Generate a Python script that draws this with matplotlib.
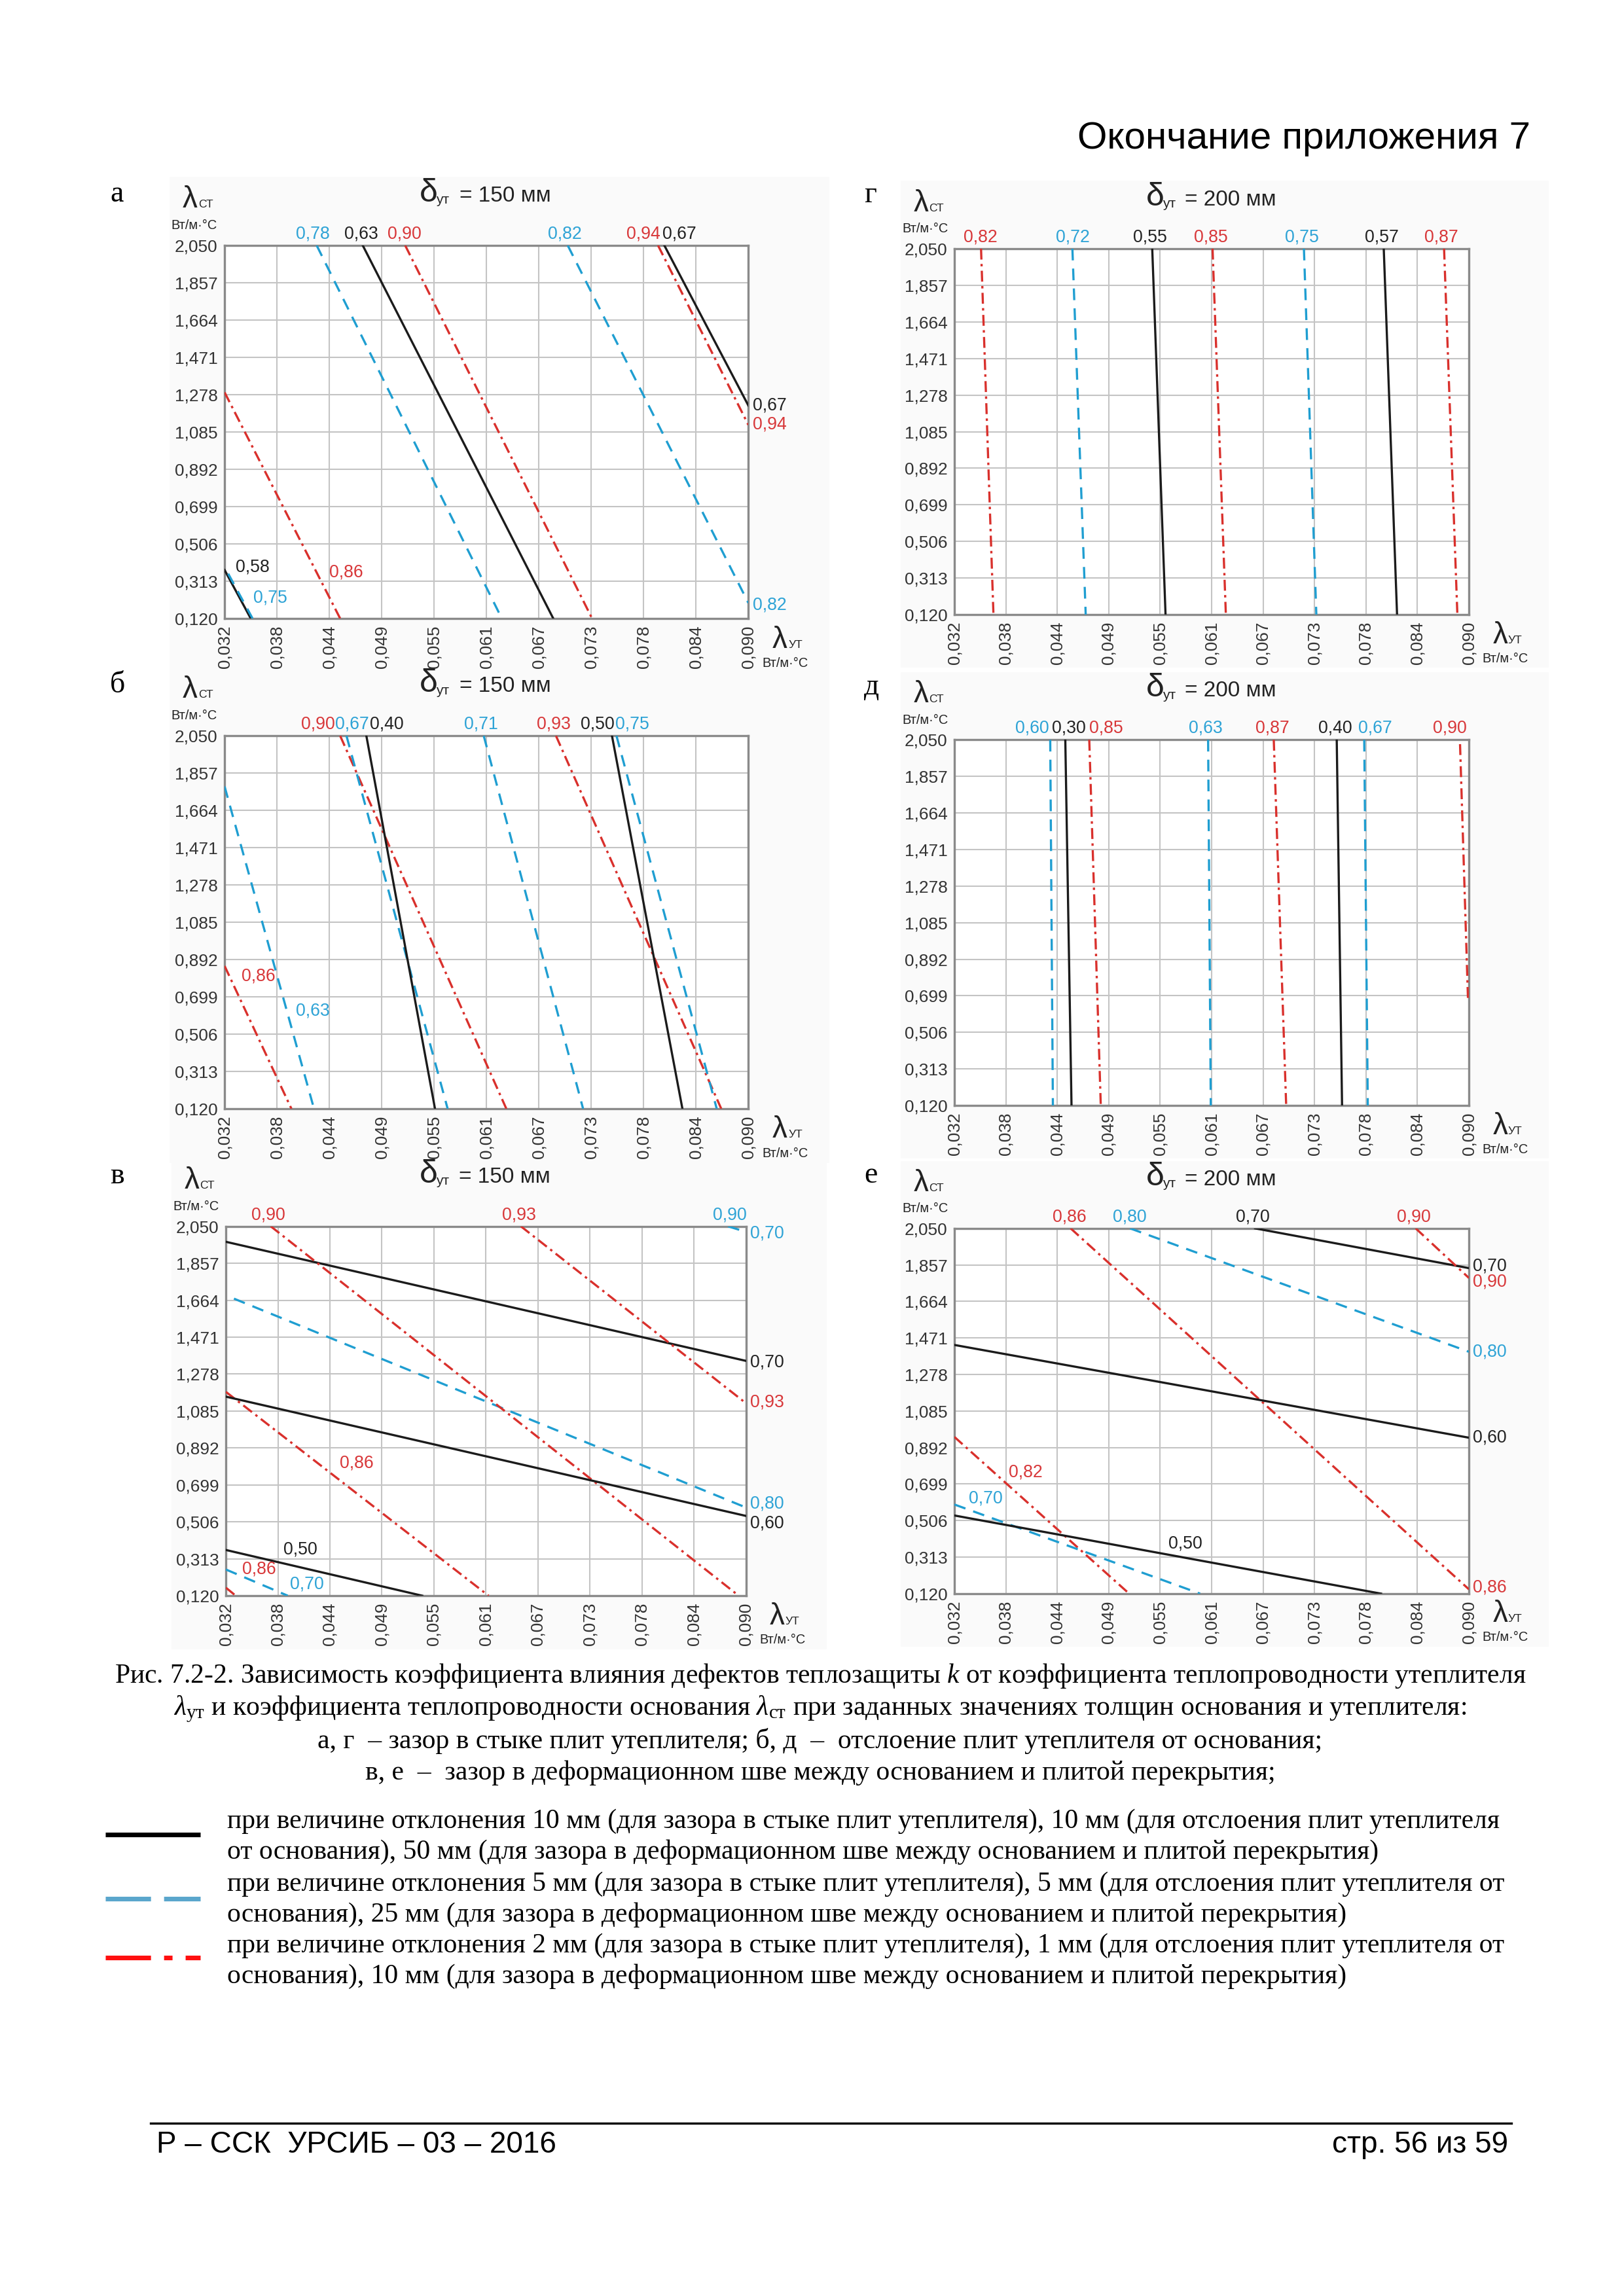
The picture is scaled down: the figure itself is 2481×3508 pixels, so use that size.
import matplotlib
matplotlib.use('Agg')
import matplotlib.pyplot as plt
from matplotlib.lines import Line2D
from matplotlib.patches import Rectangle
import numpy as np

plt.rcParams['font.family'] = ['Liberation Sans', 'DejaVu Sans']
plt.rcParams['lines.scale_dashes'] = False
plt.rcParams['mathtext.fontset'] = 'custom'
plt.rcParams['mathtext.rm'] = 'Liberation Serif'
plt.rcParams['mathtext.it'] = 'Liberation Serif:italic'

# axis values (λут along x, λст along y)
X_TICKS = ['0,032', '0,038', '0,044', '0,049', '0,055', '0,061',
           '0,067', '0,073', '0,078', '0,084', '0,090']
Y_TICKS = ['0,120', '0,313', '0,506', '0,699', '0,892', '1,085',
           '1,278', '1,471', '1,664', '1,857', '2,050']
X_MIN, X_MAX = 0.032, 0.090
Y_MIN, Y_MAX = 0.120, 2.050

# k = black (10 mm), b = blue (5 mm), r = red (2 mm)
# panel а, δут = 150 мм
A_KIND = ['b', 'k', 'r', 'b', 'r', 'k', 'r', 'k', 'b']
A_X = [(0.0422, 0.0627), (0.0473, 0.0684), (0.0520, 0.0727), (0.0700, 0.0900),
       (0.0800, 0.0900), (0.0807, 0.0900), (0.0320, 0.0448), (0.0320, 0.0349),
       (0.0324, 0.0351)]
A_Y = [(2.050, 0.120), (2.050, 0.120), (2.050, 0.120), (2.050, 0.201),
       (2.050, 1.122), (2.050, 1.222), (1.290, 0.120), (0.371, 0.120),
       (0.352, 0.120)]

# panel г, δут = 200 мм
G_KIND = ['r', 'b', 'k', 'r', 'b', 'k', 'r']
G_X = [(0.0350, 0.0364), (0.0453, 0.0468), (0.0543, 0.0558), (0.0611, 0.0626),
       (0.0714, 0.0728), (0.0804, 0.0819), (0.0872, 0.0887)]
G_Y = [(2.050, 0.120)] * 7

# panel б, δут = 150 мм
B_KIND = ['b', 'r', 'r', 'b', 'k', 'b', 'r', 'k', 'b']
B_X = [(0.0320, 0.0419), (0.0320, 0.0394), (0.0448, 0.0632), (0.0455, 0.0567),
       (0.0477, 0.0553), (0.0607, 0.0717), (0.0687, 0.0870), (0.0749, 0.0827),
       (0.0754, 0.0865)]
B_Y = [(1.788, 0.120), (0.859, 0.120), (2.050, 0.120), (2.050, 0.120),
       (2.050, 0.120), (2.050, 0.120), (2.050, 0.120), (2.050, 0.120),
       (2.050, 0.120)]

# panel д, δут = 200 мм
D_KIND = ['b', 'k', 'r', 'b', 'r', 'k', 'b', 'r']
D_X = [(0.0428, 0.0431), (0.0445, 0.0452), (0.0472, 0.0485), (0.0606, 0.0609),
       (0.0680, 0.0694), (0.0751, 0.0757), (0.0782, 0.0786), (0.0890, 0.0899)]
D_Y = [(2.050, 0.120)] * 7 + [(2.027, 0.676)]

# panel в, δут = 150 мм
V_KIND = ['k', 'b', 'r', 'r', 'r', 'k', 'k', 'b', 'r', 'b']
V_X = [(0.0320, 0.0900), (0.0329, 0.0900), (0.0370, 0.0892), (0.0649, 0.0900),
       (0.0320, 0.0613), (0.0320, 0.0900), (0.0320, 0.0539), (0.0320, 0.0389),
       (0.0320, 0.0331), (0.0880, 0.0900)]
V_Y = [(1.969, 1.347), (1.672, 0.581), (2.050, 0.120), (2.050, 1.126),
       (1.185, 0.120), (1.160, 0.537), (0.359, 0.120), (0.257, 0.120),
       (0.162, 0.120), (2.050, 2.021)]

# panel е, δут = 200 мм
E_KIND = ['k', 'r', 'r', 'b', 'k', 'r', 'b', 'k']
E_X = [(0.0659, 0.0900), (0.0840, 0.0900), (0.0451, 0.0900), (0.0518, 0.0900),
       (0.0320, 0.0900), (0.0320, 0.0517), (0.0320, 0.0597), (0.0320, 0.0801)]
E_Y = [(2.050, 1.840), (2.050, 1.788), (2.050, 0.143), (2.050, 1.398),
       (1.434, 0.944), (0.948, 0.120), (0.591, 0.120), (0.533, 0.120)]

# curve labels: text, colour, place, x / y in axes fraction
A_LAB = [('0,78', 'b', 'top', 0.168), ('0,63', 'k', 'top', 0.261),
         ('0,90', 'r', 'top', 0.344), ('0,82', 'b', 'top', 0.650),
         ('0,94', 'r', 'top', 0.799), ('0,67', 'k', 'top', 0.868),
         ('0,67', 'k', 'right', 0.571), ('0,94', 'r', 'right', 0.521),
         ('0,82', 'b', 'right', 0.036),
         ('0,58', 'k', 'in', (0.053, 0.138)), ('0,86', 'r', 'in', (0.232, 0.123)),
         ('0,75', 'b', 'in', (0.087, 0.055))]
G_LAB = [('0,82', 'r', 'top', 0.050), ('0,72', 'b', 'top', 0.230),
         ('0,55', 'k', 'top', 0.380), ('0,85', 'r', 'top', 0.498),
         ('0,75', 'b', 'top', 0.676), ('0,57', 'k', 'top', 0.831),
         ('0,87', 'r', 'top', 0.946)]
B_LAB = [('0,90', 'r', 'top', 0.178), ('0,67', 'b', 'top', 0.244),
         ('0,40', 'k', 'top', 0.310), ('0,71', 'b', 'top', 0.490),
         ('0,93', 'r', 'top', 0.628), ('0,50', 'k', 'top', 0.712),
         ('0,75', 'b', 'top', 0.779),
         ('0,86', 'r', 'in', (0.065, 0.356)), ('0,63', 'b', 'in', (0.168, 0.263))]
D_LAB = [('0,60', 'b', 'top', 0.151), ('0,30', 'k', 'top', 0.223),
         ('0,85', 'r', 'top', 0.295), ('0,63', 'b', 'top', 0.488),
         ('0,87', 'r', 'top', 0.618), ('0,40', 'k', 'top', 0.740),
         ('0,67', 'b', 'top', 0.818), ('0,90', 'r', 'top', 0.963)]
V_LAB = [('0,90', 'r', 'top', 0.081), ('0,93', 'r', 'top', 0.564),
         ('0,90', 'b', 'top', 0.969),
         ('0,70', 'b', 'right', 0.981), ('0,70', 'k', 'right', 0.632),
         ('0,93', 'r', 'right', 0.523), ('0,80', 'b', 'right', 0.249),
         ('0,60', 'k', 'right', 0.196),
         ('0,86', 'r', 'in', (0.251, 0.358)), ('0,50', 'k', 'in', (0.143, 0.125)),
         ('0,86', 'r', 'in', (0.064, 0.071)), ('0,70', 'b', 'in', (0.156, 0.031))]
E_LAB = [('0,86', 'r', 'top', 0.223), ('0,80', 'b', 'top', 0.340),
         ('0,70', 'k', 'top', 0.580), ('0,90', 'r', 'top', 0.893),
         ('0,70', 'k', 'right', 0.897), ('0,90', 'r', 'right', 0.853),
         ('0,80', 'b', 'right', 0.662), ('0,60', 'k', 'right', 0.427),
         ('0,86', 'r', 'right', 0.016),
         ('0,82', 'r', 'in', (0.138, 0.333)), ('0,70', 'b', 'in', (0.061, 0.260)),
         ('0,50', 'k', 'in', (0.449, 0.137))]

CAPTION = [
    'Рис. 7.2-2. Зависимость коэффициента влияния дефектов теплозащиты $k$ от коэффициента теплопроводности утеплителя',
    r'$\lambda_{\mathrm{ут}}$ и коэффициента теплопроводности основания $\lambda_{\mathrm{ст}}$ при заданных значениях толщин основания и утеплителя:',
    'а, г  – зазор в стыке плит утеплителя; б, д  –  отслоение плит утеплителя от основания;',
    'в, е  –  зазор в деформационном шве между основанием и плитой перекрытия;',
]
LEGEND_TEXT = [
    ('при величине отклонения 10 мм (для зазора в стыке плит утеплителя), 10 мм (для отслоения плит утеплителя',
     'от основания), 50 мм (для зазора в деформационном шве между основанием и плитой перекрытия)'),
    ('при величине отклонения 5 мм (для зазора в стыке плит утеплителя), 5 мм (для отслоения плит утеплителя от',
     'основания), 25 мм (для зазора в деформационном шве между основанием и плитой перекрытия)'),
    ('при величине отклонения 2 мм (для зазора в стыке плит утеплителя), 1 мм (для отслоения плит утеплителя от',
     'основания), 10 мм (для зазора в деформационном шве между основанием и плитой перекрытия)'),
]

# styles
LINE_COLORS = {'k': '#1b1b1b', 'b': '#1f9ed1', 'r': '#d9302c'}
TEXT_COLORS = {'k': '#222222', 'b': '#2ea3d6', 'r': '#d8383a'}
LINE_STYLES = {'k': '-', 'b': (0, (4.3, 3.0)), 'r': (0, (4.0, 1.6, 0.9, 1.6))}
SERIF = 'Liberation Serif'
BODY_SIZE = 10.0

W, H = 2481, 3508
fig = plt.figure(figsize=(W / 300, H / 300), dpi=300)


def fx(px):
    return px / W


def fy(py):
    return 1 - py / H


def panel(rect, kinds, xs, ys, labels, delta, letter, letter_xy):
    ax = fig.add_axes(rect)
    bg = Rectangle((-0.105, -0.145), 1.26, 1.33, transform=ax.transAxes,
                   facecolor='#fafafa', edgecolor='none', zorder=-5)
    fig.add_artist(bg)
    for kd, (x0, x1), (y0, y1) in zip(kinds, xs, ys):
        ax.plot([x0, x1], [y0, y1], color=LINE_COLORS[kd], linestyle=LINE_STYLES[kd],
                lw=0.8, dash_capstyle='butt', zorder=3)
    ax.set_xlim(X_MIN, X_MAX)
    ax.set_ylim(Y_MIN, Y_MAX)
    ax.set_xticks(np.linspace(X_MIN, X_MAX, len(X_TICKS)))
    ax.set_xticklabels(X_TICKS, rotation=90, fontsize=6.3, color='#333333')
    ax.set_yticks(np.linspace(Y_MIN, Y_MAX, len(Y_TICKS)))
    ax.set_yticklabels(Y_TICKS, fontsize=6.3, color='#333333')
    ax.tick_params(length=0, pad=2.5)
    ax.set_axisbelow(True)
    ax.grid(color='#c4c4c4', lw=0.5)
    for sp in ax.spines.values():
        sp.set_color('#8a8a8a')
        sp.set_linewidth(0.8)

    for txt, kd, where, pos in labels:
        c = TEXT_COLORS[kd]
        if where == 'top':
            ax.text(pos, 1.008, txt, color=c, fontsize=6.4, ha='center', va='bottom',
                    transform=ax.transAxes, clip_on=False)
        elif where == 'right':
            ax.text(1.008, pos, txt, color=c, fontsize=6.4, ha='left', va='center',
                    transform=ax.transAxes, clip_on=False)
        else:
            ax.text(pos[0], pos[1], txt, color=c, fontsize=6.4, ha='center', va='center',
                    transform=ax.transAxes, zorder=4)

    # heading δут = ... мм
    ax.text(0.372, 1.118, 'δ', fontsize=12, ha='left', va='baseline',
            transform=ax.transAxes, color='#222222')
    ax.text(0.404, 1.112, 'ут', fontsize=5, ha='left', va='baseline',
            transform=ax.transAxes, color='#222222')
    ax.text(0.448, 1.118, f'= {delta} мм', fontsize=8, ha='left', va='baseline',
            transform=ax.transAxes, color='#222222')
    # axis names
    ax.text(-0.080, 1.102, 'λ', fontsize=11, ha='left', va='baseline',
            transform=ax.transAxes, color='#222222')
    ax.text(-0.050, 1.102, 'СТ', fontsize=4.2, ha='left', va='baseline',
            transform=ax.transAxes, color='#222222')
    ax.text(-0.102, 1.044, 'Вт/м·°С', fontsize=4.8, ha='left', va='baseline',
            transform=ax.transAxes, color='#222222')
    ax.text(1.046, -0.078, 'λ', fontsize=11, ha='left', va='baseline',
            transform=ax.transAxes, color='#222222')
    ax.text(1.076, -0.078, 'УТ', fontsize=4.2, ha='left', va='baseline',
            transform=ax.transAxes, color='#222222')
    ax.text(1.026, -0.130, 'Вт/м·°С', fontsize=4.8, ha='left', va='baseline',
            transform=ax.transAxes, color='#222222')

    fig.text(fx(letter_xy[0]), fy(letter_xy[1]), letter, fontsize=11,
             family=SERIF, ha='center', va='center')
    return ax


panel([0.1383, 0.7306, 0.3225, 0.1625], A_KIND, A_X, A_Y, A_LAB, 150, 'а', (179, 297))
panel([0.5877, 0.7323, 0.3168, 0.1594], G_KIND, G_X, G_Y, G_LAB, 200, 'г', (1330, 298))
panel([0.1383, 0.5171, 0.3225, 0.1624], B_KIND, B_X, B_Y, B_LAB, 150, 'б', (179, 1047))
panel([0.5877, 0.5185, 0.3168, 0.1593], D_KIND, D_X, D_Y, D_LAB, 200, 'д', (1332, 1050))
panel([0.1391, 0.3050, 0.3202, 0.1609], V_KIND, V_X, V_Y, V_LAB, 150, 'в', (179, 1797))
panel([0.5877, 0.3059, 0.3168, 0.1591], E_KIND, E_X, E_Y, E_LAB, 200, 'е', (1330, 1796))

# header
fig.text(fx(2338), fy(212), 'Окончание приложения 7', fontsize=14,
         ha='right', va='center')

# caption
for line, py in zip(CAPTION, [2561, 2611, 2660, 2709]):
    fig.text(fx(1253), fy(py), line, fontsize=BODY_SIZE, family=SERIF,
             ha='center', va='center')

# legend
legend_styles = [('-', '#000000'), ((0, (16.6, 4.8)), '#5aa6cc'),
                 ((0, (16.6, 4.8, 3.1, 4.8)), '#ff1010')]
for (ls, col), sy, (t1, t2), (ty1, ty2) in zip(
        legend_styles, [2803, 2901, 2991], LEGEND_TEXT,
        [(2783, 2830), (2879, 2926), (2973, 3020)]):
    fig.add_artist(Line2D([fx(161), fx(306)], [fy(sy), fy(sy)], color=col,
                          linestyle=ls, lw=1.7, dash_capstyle='butt',
                          solid_capstyle='butt'))
    fig.text(fx(347), fy(ty1), t1, fontsize=BODY_SIZE, family=SERIF,
             ha='left', va='center')
    fig.text(fx(347), fy(ty2), t2, fontsize=BODY_SIZE, family=SERIF,
             ha='left', va='center')

# footer
fig.add_artist(Line2D([fx(230), fx(2309)], [fy(3244), fy(3244)], color='black', lw=0.8))
fig.text(fx(239), fy(3277), 'Р – ССК  УРСИБ – 03 – 2016', fontsize=11,
         ha='left', va='center')
fig.text(fx(2304), fy(3277), 'стр. 56 из 59', fontsize=11, ha='right', va='center')

fig.savefig('out.png', dpi=300, facecolor='white')
